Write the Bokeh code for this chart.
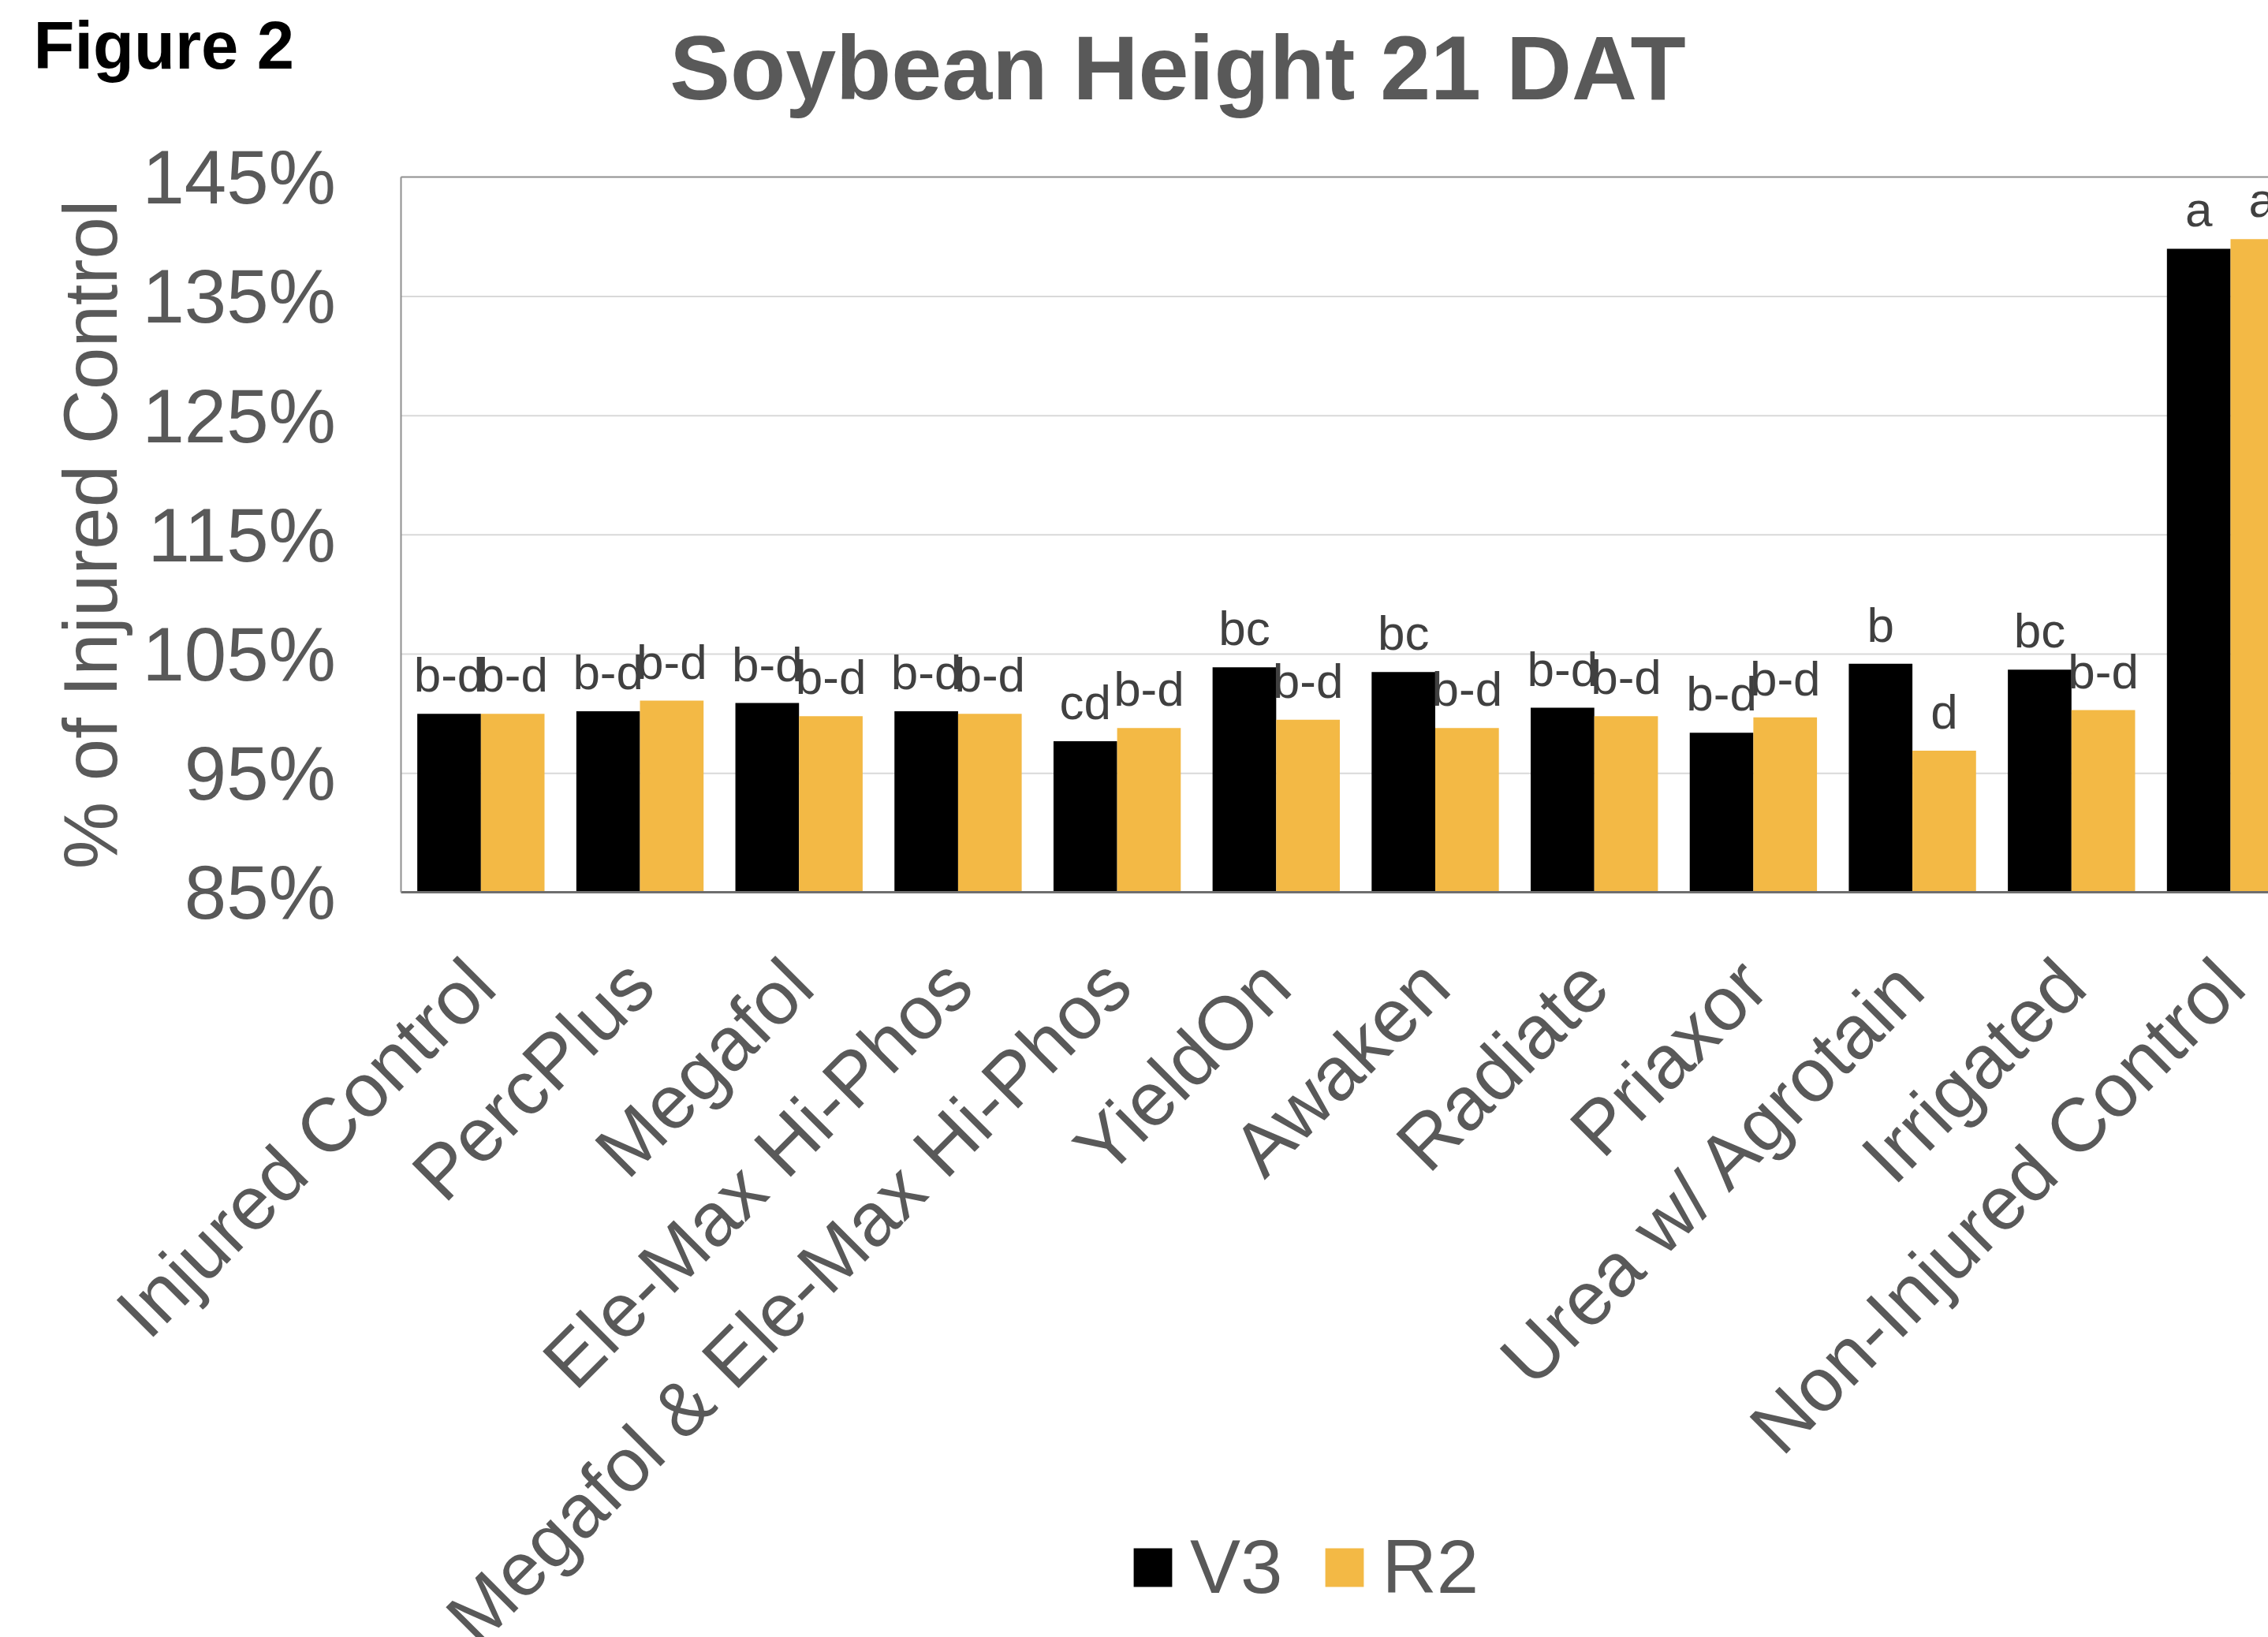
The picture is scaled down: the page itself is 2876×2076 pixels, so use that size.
import math
from bokeh.plotting import figure
from bokeh.models import (Range1d, FixedTicker, LinearAxis, PrintfTickFormatter, LabelSet,
                          ColumnDataSource, Label, Legend, LegendItem)
from bokeh.core.properties import value
from bokeh.embed import file_html
from bokeh.resources import INLINE

# ---------------- data ----------------
categories = ["Injured Control", "PercPlus", "Megafol", "Ele-Max Hi-Phos",
              "Megafol & Ele-Max Hi-Phos", "YieldOn", "Awaken", "Radiate",
              "Priaxor", "Urea w/ Agrotain", "Irrigated", "Non-Injured Control"]
v3_values = [100.0, 100.2, 100.9, 100.2, 97.7, 103.9, 103.5, 100.5, 98.4, 104.2, 103.7, 139.0]
r2_values = [100.0, 101.1, 99.8, 100.0, 98.8, 99.5, 98.8, 99.8, 99.7, 96.9, 100.3, 139.8]
v3_letters = ["b-d", "b-d", "b-d", "b-d", "cd", "bc", "bc", "b-d", "b-d", "b", "bc", "a"]
r2_letters = ["b-d", "b-d", "b-d", "b-d", "b-d", "b-d", "b-d", "b-d", "b-d", "d", "b-d", "a"]
y_ticks = [85, 95, 105, 115, 125, 135, 145]
series_names = ["V3", "R2"]
series_colors = ["#000000", "#F3B945"]
title_text = "Soybean Height 21 DAT"
figure_label = "Figure 2"
y_label = "% of Injured Control"

FONT = "Liberation Sans"
GRAY = "#595959"

W, H = 2876, 2076
n = len(categories)
centers = [i + 0.5 for i in range(n)]
v3_x = [c - 0.2 for c in centers]
r2_x = [c + 0.2 for c in centers]

# layout: plot area of the chart is 508..(beyond right edge) x 224..1132 px
X_START, X_END = -2.521, 11.738
Y_START, Y_END = 22.53, 159.83
y_lo, y_hi = y_ticks[0], y_ticks[-1]

p = figure(width=W, height=H, output_backend="svg", toolbar_location=None, title=None,
           x_range=Range1d(X_START, X_END), y_range=Range1d(Y_START, Y_END),
           min_border=0, x_axis_type=None, y_axis_type=None)
p.outline_line_color = None
p.border_fill_color = "white"
p.background_fill_color = "white"

# horizontal gridlines (over plot area only)
grid_ticks = y_ticks[1:-1]
p.segment(x0=[0] * len(grid_ticks), x1=[X_END] * len(grid_ticks), y0=grid_ticks, y1=grid_ticks,
          line_color="#D9D9D9", line_width=2)

# bars
r_v3 = p.vbar(x=v3_x, top=v3_values, bottom=y_lo, width=0.4,
              fill_color=series_colors[0], line_color=None)
r_r2 = p.vbar(x=r2_x, top=r2_values, bottom=y_lo, width=0.4,
              fill_color=series_colors[1], line_color=None)

# y axis at x = 0
yaxis = LinearAxis(ticker=FixedTicker(ticks=y_ticks), formatter=PrintfTickFormatter(format="%d%%"),
                   axis_label=y_label, fixed_location=0, bounds=(y_lo, y_hi))
yaxis.axis_line_color = "#8F8F8F"
yaxis.axis_line_width = 2
yaxis.major_tick_line_color = None
yaxis.minor_tick_line_color = None
yaxis.major_tick_out = 0
yaxis.major_tick_in = 0
yaxis.major_label_standoff = 83
yaxis.major_label_text_font = FONT
yaxis.major_label_text_font_size = "96px"
yaxis.major_label_text_color = GRAY
yaxis.axis_label_text_font = FONT
yaxis.axis_label_text_font_size = "96px"
yaxis.axis_label_text_font_style = "normal"
yaxis.axis_label_text_color = GRAY
yaxis.axis_label_standoff = 9
p.add_layout(yaxis, "left")

# x axis at y = 85 with rotated category labels
xaxis = LinearAxis(ticker=FixedTicker(ticks=centers), fixed_location=y_lo, bounds=(0, X_END),
                   major_label_overrides={c: name for c, name in zip(centers, categories)})
xaxis.axis_line_color = "#6E6E6E"
xaxis.axis_line_width = 3
xaxis.major_tick_line_color = None
xaxis.minor_tick_line_color = None
xaxis.major_tick_out = 0
xaxis.major_tick_in = 0
xaxis.major_label_orientation = math.pi / 4
xaxis.major_label_standoff = 101
xaxis.major_label_text_font = FONT
xaxis.major_label_text_font_size = "96px"
xaxis.major_label_text_color = GRAY
p.add_layout(xaxis, "below")

# top border of plot area
top_axis = LinearAxis(ticker=FixedTicker(ticks=[]), fixed_location=y_hi, bounds=(0, X_END))
top_axis.axis_line_color = "#8F8F8F"
top_axis.axis_line_width = 2
top_axis.major_tick_line_color = None
top_axis.minor_tick_line_color = None
top_axis.major_label_text_font_size = "0px"
p.add_layout(top_axis, "above")

# letter labels
src_v3 = ColumnDataSource(dict(x=v3_x, y=v3_values, t=v3_letters))
src_r2 = ColumnDataSource(dict(x=r2_x, y=r2_values, t=r2_letters))
for src in (src_v3, src_r2):
    p.add_layout(LabelSet(x="x", y="y", text="t", source=src, y_offset=28,
                          text_align="center", text_baseline="alphabetic",
                          text_font=value(FONT), text_font_size=value("62px"),
                          text_color="#404040"))

# titles
p.add_layout(Label(x=1493, y=H - 85, x_units="screen", y_units="screen", text=title_text,
                   text_align="center", text_baseline="alphabetic", text_font=FONT,
                   text_font_size="115px", text_font_style="bold", text_color=GRAY))
p.add_layout(Label(x=42, y=H - 57, x_units="screen", y_units="screen", text=figure_label,
                   text_align="left", text_baseline="alphabetic", text_font=FONT,
                   text_font_size="85px", text_font_style="bold", text_color="#000000"))

# legend
legend = Legend(items=[LegendItem(label=series_names[0], renderers=[r_v3]),
                       LegendItem(label=series_names[1], renderers=[r_r2])],
                orientation="horizontal", location=(1431, 34),
                glyph_width=61, glyph_height=61, label_height=61, label_standoff=17, spacing=48,
                padding=0, margin=0, border_line_color=None, background_fill_alpha=0,
                label_text_font=FONT, label_text_font_size="96px", label_text_color=GRAY)
p.add_layout(legend)

open("out.html", "w").write(file_html(p, INLINE))
